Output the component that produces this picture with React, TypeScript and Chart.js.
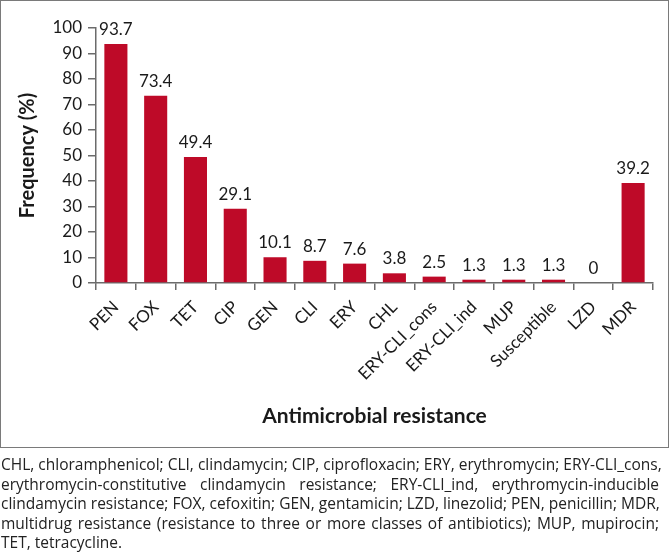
import React, { useEffect, useRef } from "react";
import { Chart, registerables } from "chart.js";

Chart.register(...registerables);

const categories = ["PEN", "FOX", "TET", "CIP", "GEN", "CLI", "ERY", "CHL", "ERY-CLI_cons", "ERY-CLI_ind", "MUP", "Susceptible", "LZD", "MDR"];
const frequencies = [93.7, 73.4, 49.4, 29.1, 10.1, 8.7, 7.6, 3.8, 2.5, 1.3, 1.3, 1.3, 0, 39.2];
const valueLabels = ["93.7", "73.4", "49.4", "29.1", "10.1", "8.7", "7.6", "3.8", "2.5", "1.3", "1.3", "1.3", "0", "39.2"];
const captionLines = [
  "CHL, chloramphenicol; CLI, clindamycin; CIP, ciprofloxacin; ERY, erythromycin; ERY-CLI_cons,",
  "erythromycin-constitutive clindamycin resistance; ERY-CLI_ind, erythromycin-inducible",
  "clindamycin resistance; FOX, cefoxitin; GEN, gentamicin; LZD, linezolid; PEN, penicillin; MDR,",
  "multidrug resistance (resistance to three or more classes of antibiotics); MUP, mupirocin;",
  "TET, tetracycline.",
];

const FONT = "Lato, 'Open Sans', sans-serif";
const CAPTION_FONT = "'Open Sans', Lato, sans-serif";
const BAR = "#BE0A28";
const AXIS = "#6b6b6b";
const TEXT = "#1a1a1a";

const valuePlugin = {
  id: "valueLabels",
  afterDatasetsDraw(chart: any) {
    const ctx = chart.ctx;
    const meta = chart.getDatasetMeta(0);
    ctx.save();
    ctx.font = `17px ${FONT}`;
    ctx.fillStyle = TEXT;
    ctx.textAlign = "center";
    ctx.textBaseline = "alphabetic";
    meta.data.forEach((bar: any, i: number) => {
      ctx.fillText(valueLabels[i], bar.x, bar.y - 9);
    });
    ctx.restore();
  },
};

export default function App() {
  const ref = useRef<HTMLCanvasElement>(null);
  useEffect(() => {
    if (!ref.current) return;
    const chart = new Chart(ref.current, {
      type: "bar",
      data: {
        labels: categories,
        datasets: [
          {
            data: frequencies,
            backgroundColor: BAR,
            borderWidth: 0,
            barPercentage: 0.58,
            categoryPercentage: 1,
          },
        ],
      },
      options: {
        animation: false,
        responsive: false,
        maintainAspectRatio: false,
        layout: { padding: { top: 28, right: 17, left: 0, bottom: 0 } },
        plugins: { legend: { display: false }, tooltip: { enabled: false } },
        scales: {
          x: {
            offset: true,
            grid: { offset: true, drawOnChartArea: false, drawTicks: true, tickLength: 7, color: AXIS, lineWidth: 1.5 },
            border: { display: true, color: AXIS, width: 1.5 },
            ticks: { color: TEXT, font: { size: 17, family: FONT }, minRotation: 45, maxRotation: 45, padding: 7, autoSkip: false },
            title: { display: true, text: "Antimicrobial resistance", color: TEXT, font: { size: 21, weight: "bold", family: FONT }, padding: { top: 0, bottom: 21 } },
            afterFit: (s: any) => { s.height = 167; },
          },
          y: {
            min: 0,
            max: 100,
            grid: { drawOnChartArea: false, drawTicks: true, tickLength: 8, color: AXIS, lineWidth: 1.5 },
            border: { display: true, color: AXIS, width: 1.5 },
            ticks: { stepSize: 10, color: TEXT, font: { size: 17, family: FONT }, padding: 6 },
            title: { display: true, text: "Frequency (%)", color: TEXT, font: { size: 20, weight: "bold", family: FONT }, padding: { top: 16, bottom: 0 } },
            afterFit: (s: any) => { s.width = 96; },
          },
        },
      },
      plugins: [valuePlugin],
    } as any);
    return () => chart.destroy();
  }, []);

  return (
    <div style={{ position: "absolute", left: 0, top: 0, width: 670, height: 554, background: "#fff" }}>
      <canvas ref={ref} width={670} height={450} style={{ position: "absolute", left: 0, top: 0, width: 670, height: 450 }} />
      <div style={{ position: "absolute", left: 0, top: 0, width: 669, height: 448, boxSizing: "border-box", border: "1.5px solid #7a7a7a", pointerEvents: "none" }} />
      <div style={{ position: "absolute", left: 1, top: 455, width: 658, fontFamily: CAPTION_FONT, fontSize: 15.5, lineHeight: "19.5px", color: "#222" }}>
        {captionLines.map((line, i) => (
          <div key={i} style={{ textAlign: i < captionLines.length - 1 ? "justify" : "left", textAlignLast: i < captionLines.length - 1 ? "justify" : "left", whiteSpace: "nowrap" as any }}>
            {line}
          </div>
        ))}
      </div>
    </div>
  );
}
